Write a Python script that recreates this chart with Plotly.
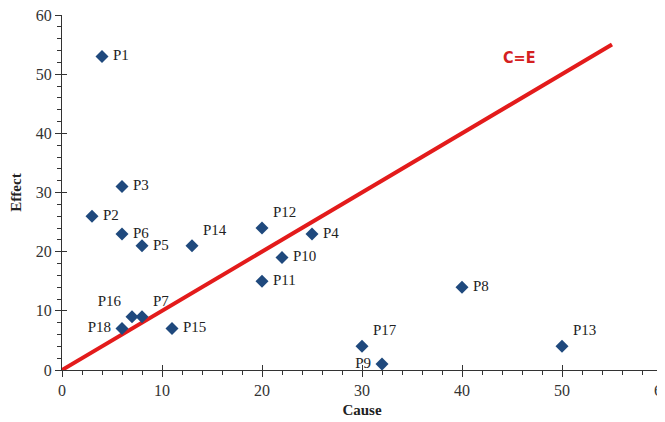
import plotly.graph_objects as go

labels = ["P1","P2","P3","P4","P5","P6","P7","P8","P9","P10","P11","P12","P13","P14","P15","P16","P17","P18"]
cause  = [4, 3, 6, 25, 8, 6, 8, 40, 32, 22, 20, 20, 50, 13, 11, 7, 30, 6]
effect = [53, 26, 31, 23, 21, 23, 9, 14, 1, 19, 15, 24, 4, 21, 7, 9, 4, 7]
label_pos = ["middle right","middle right","middle right","middle right","middle right","middle right",
             "top right","middle right","middle left","middle right","middle right","top right",
             "top right","top right","middle right","top left","top right","middle left"]
line_x = [0, 55]
line_y = [0, 55]
line_label = "C=E"
line_label_xy = (45.7, 52.8)

fig = go.Figure()
fig.add_trace(go.Scatter(x=line_x, y=line_y, mode="lines",
                         line=dict(color="#e31b1b", width=4), hoverinfo="skip"))
fig.add_trace(go.Scatter(x=cause, y=effect, mode="markers+text", text=[" " + l + " " for l in labels],
                         textposition=label_pos,
                         textfont=dict(family="Liberation Serif", size=15, color="#222222"),
                         marker=dict(symbol="diamond", size=10, color="#1f497d")))
# invisible trace on overlay axes (used only for inner half of crossing major ticks)
fig.add_trace(go.Scatter(x=line_x, y=line_y, xaxis="x2", yaxis="y2", mode="lines",
                         line=dict(width=0), opacity=0, hoverinfo="skip"))
fig.add_annotation(x=line_label_xy[0], y=line_label_xy[1], text="<b>" + line_label + "</b>",
                   showarrow=False, font=dict(family="DejaVu Sans Condensed, Liberation Sans Narrow", size=16, color="#d42020"))

axis_common = dict(range=[0, 60], dtick=10, showgrid=False, zeroline=False, showline=True,
                   linecolor="#333333", linewidth=1.2, ticks="outside", ticklen=6, tickcolor="#333333",
                   tickfont=dict(family="Liberation Serif", size=16, color="#333333"),
                   ticklabeloverflow="allow", automargin=False,
                   minor=dict(dtick=2, ticks="outside", ticklen=4, tickcolor="#333333"))
fig.update_xaxes(**axis_common,
                 title=dict(text="<b>Cause</b>", font=dict(family="Liberation Serif", size=15, color="#222222"), standoff=6))
fig.update_yaxes(**axis_common,
                 title=dict(text="<b>Effect</b>", font=dict(family="Liberation Serif", size=15, color="#222222"), standoff=12))
inner = dict(range=[0, 60], dtick=10, showgrid=False, zeroline=False, showline=False, automargin=False,
             ticks="inside", ticklen=5, tickcolor="#333333", showticklabels=False)
fig.update_layout(xaxis2=dict(**inner, overlaying="x", anchor="y"),
                  yaxis2=dict(**inner, overlaying="y", anchor="x", side="left"))
fig.update_layout(width=665, height=422, showlegend=False, plot_bgcolor="white", paper_bgcolor="white",
                  margin=dict(l=54, r=11, t=7, b=60))
fig.write_html("out.html")
